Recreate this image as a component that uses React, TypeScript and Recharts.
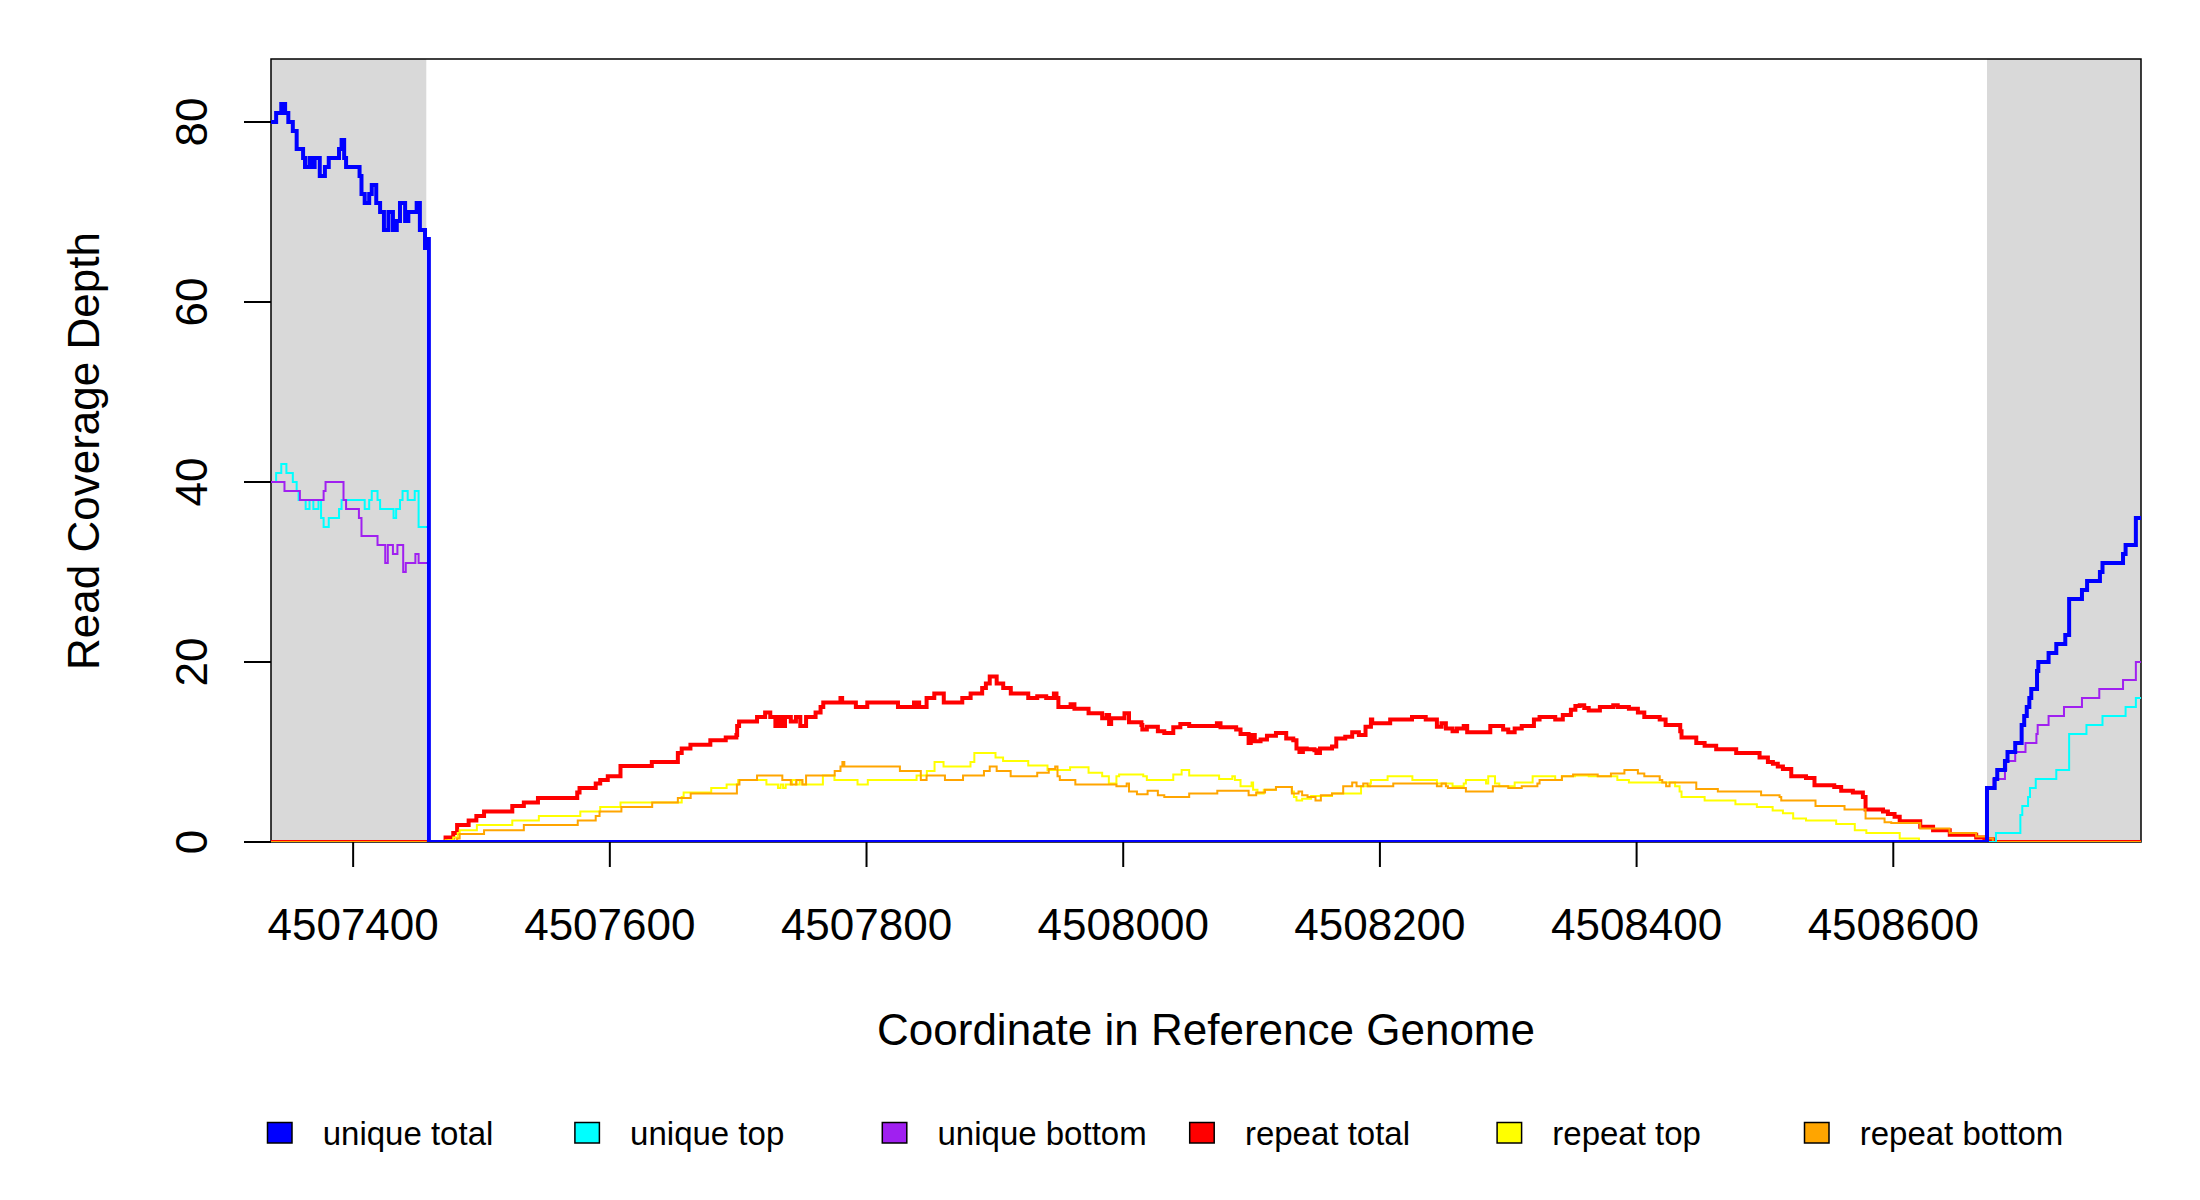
import React from 'react'
import { LineChart, Line, XAxis, YAxis, ReferenceArea } from 'recharts'

// genome coordinates are stored as bp offsets from BASE
const BASE = 4507400
const X_MIN = 4507336
const X_MAX = 4508793
const LEFT_FLANK_END = 4507457
const RIGHT_FLANK_START = 4508673

const xTicks = [4507400, 4507600, 4507800, 4508000, 4508200, 4508400, 4508600]
const yTicks = [0, 20, 40, 60, 80]

const seriesNames = ['unique total', 'unique top', 'unique bottom', 'repeat total', 'repeat top', 'repeat bottom']
const seriesColors = ['#0000ff', '#00ffff', '#a020f0', '#ff0000', '#ffff00', '#ffa500']

// [offset, depth] step points
const uniqueTotal: [number, number][] = [
  [-64, 80], [-60, 81], [-56, 82], [-53, 81], [-50.5, 80], [-47, 79], [-44, 77], [-39, 76],
  [-37.5, 75], [-34, 76], [-31.5, 75], [-30, 76], [-26, 74], [-22, 75], [-19, 76], [-11, 77],
  [-9, 78], [-7, 76], [-5.5, 75], [5, 74], [6.5, 72], [9, 71], [12.5, 72], [14.5, 73],
  [18, 71], [21, 70], [24, 68], [27.5, 70], [31, 68], [34, 69], [36.5, 71], [40.5, 69],
  [43, 70], [49.5, 71], [52, 68], [56, 66], [58, 67], [59, 0],
  [1273, 6], [1279, 7], [1281, 8], [1287, 9], [1289, 10], [1295, 11], [1300, 13], [1302, 14],
  [1304, 15], [1306, 16], [1307.5, 17], [1312, 19], [1313, 20], [1321, 21], [1327, 22],
  [1334, 23], [1337, 27], [1347, 28], [1351, 29], [1361, 30], [1363, 31], [1379, 32],
  [1381, 33], [1389, 36], [1393, 36],
]

const uniqueTop: [number, number][] = [
  [-64, 40], [-60, 41], [-56, 42], [-52, 41], [-47, 40], [-44, 39], [-42.5, 38], [-37, 37],
  [-34, 38], [-31, 37], [-27, 38], [-25, 36], [-23, 35], [-19, 36], [-11, 37], [-9, 38],
  [9, 37], [12.5, 38], [14.5, 39], [19, 38], [21, 37], [31.5, 36], [33.5, 37], [36.5, 38],
  [38.5, 39], [42.5, 38], [48, 39], [51, 35], [59, 0],
  [1280, 1], [1299, 3], [1300.5, 4], [1305, 5], [1306.5, 6], [1311, 7], [1327, 8], [1337, 12],
  [1350.5, 13], [1363, 14], [1381, 15], [1389, 16], [1393, 16],
]

const uniqueBottom: [number, number][] = [
  [-64, 40], [-53.5, 39], [-41.5, 38], [-23, 39], [-21.5, 40], [-7.5, 38], [-5.5, 37],
  [4.5, 36], [6.5, 34], [19, 33], [25, 31], [27, 33], [31, 32], [34.5, 33], [39, 30],
  [41, 31], [48.5, 32], [51, 31], [59, 0],
  [1273, 6], [1278, 7], [1287, 8], [1288, 9], [1295, 10], [1303, 11], [1311.5, 12],
  [1312.5, 13], [1321, 14], [1333, 15], [1347, 16], [1360.5, 17], [1379, 18], [1389, 20],
  [1393, 20],
]

const repeatTotal: [number, number][] = [
  [-64, 0], [72, 0.5], [78, 1], [81, 1.9], [90, 2.4], [96, 2.9], [102, 3.4], [124, 4],
  [133, 4.4], [144, 4.9], [174.6, 5.5], [176.4, 6], [189, 6.5], [192.5, 6.9], [198.4, 7.3],
  [208.3, 8.45], [232.7, 8.9], [253, 9.9], [256, 10.4], [262.8, 10.8], [278.3, 11.3],
  [290.3, 11.6], [298.6, 11.9], [299.2, 12.9], [300.7, 13.4], [314.7, 13.9], [321, 14.4],
  [325, 13.9], [329, 12.9], [332, 13.9], [334.4, 12.9], [336.5, 13.9], [341, 13.4],
  [345, 13.9], [348.4, 12.9], [352.9, 13.9], [360.3, 14.4], [364.2, 15], [366.3, 15.5],
  [379.7, 16], [381, 15.5], [391.7, 15], [400.6, 15.5], [424.5, 15], [437, 15.5], [438, 15],
  [439.5, 15.5], [441, 15], [446.8, 16], [452.8, 16.5], [460.2, 15.5], [474.6, 16],
  [481.1, 16.5], [490.1, 17.1], [493, 17.6], [496, 18.4], [501.4, 17.6], [506.5, 17.1],
  [512.4, 16.5], [526, 16], [533, 16.2], [540, 16], [546, 16.5], [548, 16], [549.5, 15],
  [559, 15.3], [562, 14.8], [573, 14.3], [583.6, 13.75], [587, 14.1], [589, 13.1],
  [590.6, 13.75], [601, 14.3], [604.5, 13.3], [614.2, 13], [614.9, 12.5], [618.4, 12.8],
  [627, 12.3], [632, 12.1], [639, 12.75], [644.5, 13.1], [651.4, 12.9], [673, 13.2],
  [675.8, 12.75], [688, 12.5], [691.4, 12], [697.7, 11], [699.4, 11.9], [702.5, 11.2],
  [707, 11.4], [712, 11.8], [719, 12.1], [727, 11.5], [732.5, 11.3], [735, 10.4],
  [737.3, 10], [740, 10.4], [743, 10.3], [749, 10.2], [750.5, 9.9], [753.3, 10.4],
  [762.7, 10.6], [766, 11.5], [773, 11.7], [778.4, 12.2], [783.6, 11.9], [788.8, 12.8],
  [793, 13.6], [794, 13.2], [808, 13.6], [825, 13.9], [835.7, 13.6], [844.4, 12.8],
  [848, 13.2], [851.4, 12.6], [856.6, 12.3], [860, 12.6], [865.3, 12.9], [868, 12.2],
  [886, 12.9], [896, 12.5], [900, 12.2], [905, 12.6], [910.5, 12.9], [920, 13.6],
  [924.4, 13.9], [936.6, 13.6], [942.5, 14.1], [948.8, 14.7], [952.3, 15.1], [955.7, 15.2],
  [959.2, 14.9], [962.7, 14.6], [971.4, 15], [981.8, 15.2], [985.3, 15], [994, 14.8],
  [1001, 14.4], [1006, 13.9], [1018, 13.6], [1022.6, 13], [1034, 12.3], [1035, 11.6],
  [1046.5, 11], [1053, 10.7], [1062, 10.3], [1077.6, 9.9], [1095.8, 9.4], [1102.3, 8.9],
  [1106.2, 8.7], [1110, 8.4], [1114, 8.1], [1120.5, 7.3], [1132, 7.1], [1138.6, 6.3],
  [1154, 6.1], [1159.4, 5.7], [1168.5, 5.5], [1176.3, 5], [1178.4, 3.6], [1192, 3.4],
  [1195.8, 3.1], [1201, 2.8], [1205, 2.3], [1221, 1.7], [1231, 1.3], [1244, 0.8],
  [1264.6, 0.5], [1271, 0.3], [1277.6, 0], [1393, 0],
]

const repeatTop: [number, number][] = [
  [-64, 0], [72, 0.2], [78, 0.5], [81.5, 1], [83, 1.3], [96.4, 1.9], [124, 2.4], [144.7, 2.9],
  [177, 3.4], [192.5, 3.9], [208.3, 4.4], [256, 5], [257.5, 5.5], [279, 6], [291, 6.4],
  [300, 6.9], [322, 6.4], [331, 6], [333, 6.4], [335, 6], [337, 6.4], [342, 6.9], [345, 6.4],
  [348, 6.9], [350, 6.4], [366, 7.4], [375, 6.9], [393, 6.4], [401, 6.9], [439, 7.4],
  [447, 7.9], [453, 8.9], [460, 8.4], [481, 8.9], [484, 9.9], [500.5, 9.4], [506.4, 9],
  [526, 8.5], [541, 8], [558.6, 8.3], [573, 7.7], [583.6, 7.3], [588.8, 6.5], [594.7, 7.3],
  [596.8, 7.5], [615.6, 7.3], [618.4, 6.9], [639, 7.5], [645.5, 8], [651.4, 7.4],
  [674.7, 7], [685, 7.3], [687, 6.9], [691.4, 6.2], [700, 6.6], [701.2, 5.8], [704.6, 5.4],
  [709.5, 5.8], [719, 6.1], [731.4, 5.6], [733, 5], [735, 4.6], [739.4, 4.8], [746.4, 5.1],
  [762.7, 5.4], [785.3, 6.2], [792.3, 6.5], [793, 6.9], [806, 7.3], [825.3, 6.9],
  [844.4, 6.5], [856.6, 6.2], [865.3, 6.5], [867, 6.9], [882.7, 6.5], [884.4, 7.3],
  [889.7, 6.5], [893, 6.2], [905, 6.6], [919, 7.3], [936.6, 6.9], [941.8, 7.3], [952, 7.4],
  [962.7, 7.3], [985, 6.9], [994, 6.6], [1030, 6.2], [1033.5, 5.6], [1035, 5], [1053, 4.6],
  [1077, 4.2], [1093.7, 3.9], [1106, 3.5], [1114, 3.2], [1122, 2.6], [1132, 2.4],
  [1155.5, 2], [1170, 1.3], [1179, 1], [1205, 0.4], [1220, 0], [1393, 0],
]

const repeatBottom: [number, number][] = [
  [-64, 0], [81, 0.4], [83, 0.9], [102, 1.3], [133, 1.9], [175, 2.4], [189, 2.9], [192, 3.4],
  [209, 3.9], [233, 4.4], [253, 4.9], [263, 5.4], [299, 6.4], [301, 6.9], [314.7, 7.4],
  [334.4, 6.9], [341, 6.4], [345.4, 6.9], [350, 6.4], [352.9, 7.4], [375.2, 7.9],
  [379.7, 8.4], [381.2, 8.9], [382.7, 8.4], [426, 7.9], [442.3, 6.9], [446.8, 7.4],
  [461.1, 6.9], [475.2, 7.4], [491.5, 7.9], [496, 8.4], [501.4, 7.9], [512.3, 7.3],
  [533, 7.7], [542, 8.1], [547, 8.4], [548.8, 7.3], [550.6, 6.9], [562.7, 6.4],
  [594.7, 6.2], [602.7, 6.5], [604.5, 5.6], [610.7, 5.3], [619, 5.7], [627, 5.2],
  [632, 5], [651.4, 5.4], [673.3, 5.7], [697.7, 5.2], [703.6, 5.5], [710.5, 5.8],
  [719, 6.1], [731.4, 5.4], [736.6, 5.6], [739.4, 5.2], [743.6, 5], [749.8, 4.6],
  [754, 5.2], [762.7, 5.4], [771.4, 6.2], [778.4, 6.6], [781.8, 6.2], [787, 6.5],
  [790.5, 6.2], [810.4, 6.5], [844.4, 6.2], [848, 6.5], [851.4, 6.2], [853, 6], [867, 5.6],
  [888, 6.2], [900, 6], [910.5, 6.2], [922.7, 6.5], [924.4, 6.9], [941.8, 7.3],
  [950.5, 7.5], [969.7, 7.3], [980, 7.6], [990.5, 8], [1001, 7.6], [1006, 7.3],
  [1018, 6.9], [1020, 6.6], [1023, 6.2], [1025.7, 6.6], [1046.5, 5.9], [1063.3, 5.6],
  [1097, 5.2], [1111.4, 5], [1112.7, 4.6], [1139.4, 4], [1162, 3.6], [1178.4, 2.6],
  [1193.2, 2.2], [1198.4, 2.1], [1221, 1.5], [1243.8, 1], [1264.6, 0.6], [1272.4, 0.4],
  [1277.6, 0], [1393, 0],
]

const toRows = (pts: [number, number][]) => pts.map(([o, v]) => ({ x: BASE + o, v }))

// drawn in this order: repeat first, unique total last so it sits on top
const drawOrder = [
  { idx: 3, pts: repeatTotal, w: 4 },
  { idx: 4, pts: repeatTop, w: 2 },
  { idx: 5, pts: repeatBottom, w: 2 },
  { idx: 1, pts: uniqueTop, w: 2 },
  { idx: 2, pts: uniqueBottom, w: 2 },
  { idx: 0, pts: uniqueTotal, w: 4 },
]

const FONT = '"Liberation Sans", Arial, Helvetica, sans-serif'

function XTick(props: any) {
  const { x, y, payload } = props
  return (
    <text x={x} y={y + 71} textAnchor="middle" fontSize={44} fontFamily={FONT} fill="#000">
      {payload.value}
    </text>
  )
}

function YTick(props: any) {
  const { x, y, payload } = props
  const bx = x - 35
  return (
    <text x={bx} y={y} transform={`rotate(-90 ${bx} ${y})`} textAnchor="middle" fontSize={44} fontFamily={FONT} fill="#000">
      {payload.value}
    </text>
  )
}

export default function App() {
  return (
    <div style={{ position: 'absolute', left: 0, top: 0, width: 2200, height: 1200, background: '#fff' }}>
      <LineChart width={2200} height={1200} margin={{ top: 59, right: 59, bottom: 258, left: 151 }}>
        <ReferenceArea x1={X_MIN} x2={LEFT_FLANK_END} y1={0} y2={87} fill="#d9d9d9" fillOpacity={1} stroke="none" />
        <ReferenceArea x1={RIGHT_FLANK_START} x2={X_MAX} y1={0} y2={87} fill="#d9d9d9" fillOpacity={1} stroke="none" />
        <XAxis
          dataKey="x"
          type="number"
          domain={[X_MIN, X_MAX]}
          allowDataOverflow
          ticks={xTicks}
          interval={0}
          height={100}
          tickSize={25}
          axisLine={false}
          tickLine={{ stroke: '#000', strokeWidth: 2 }}
          tick={<XTick />}
        />
        <YAxis
          type="number"
          domain={[0, 87]}
          allowDataOverflow
          ticks={yTicks}
          interval={0}
          width={120}
          tickSize={27}
          axisLine={false}
          tickLine={{ stroke: '#000', strokeWidth: 2 }}
          tick={<YTick />}
        />
        {drawOrder.map((s) => (
          <Line
            key={seriesNames[s.idx]}
            data={toRows(s.pts)}
            dataKey="v"
            name={seriesNames[s.idx]}
            type="stepAfter"
            stroke={seriesColors[s.idx]}
            strokeWidth={s.w}
            dot={false}
            activeDot={false}
            isAnimationActive={false}
          />
        ))}
        <ReferenceArea x1={X_MIN} x2={X_MAX} y1={0} y2={87} fill="none" fillOpacity={0} stroke="#000" strokeWidth={1.5} />
      </LineChart>
      <svg width={2200} height={1200} style={{ position: 'absolute', left: 0, top: 0, pointerEvents: 'none' }}>
        <text x={1206} y={1045} textAnchor="middle" fontSize={44} fontFamily={FONT} fill="#000">
          Coordinate in Reference Genome
        </text>
        <text x={99} y={451} transform="rotate(-90 99 451)" textAnchor="middle" fontSize={44} fontFamily={FONT} fill="#000">
          Read Coverage Depth
        </text>
        {seriesNames.map((name, i) => (
          <g key={name}>
            <rect x={267.5 + i * 307.4} y={1122.5} width={24.5} height={20.5} fill={seriesColors[i]} stroke="#000" strokeWidth={1.5} />
            <text x={322.7 + i * 307.4} y={1145} fontSize={33} fontFamily={FONT} fill="#000">
              {name}
            </text>
          </g>
        ))}
      </svg>
    </div>
  )
}
